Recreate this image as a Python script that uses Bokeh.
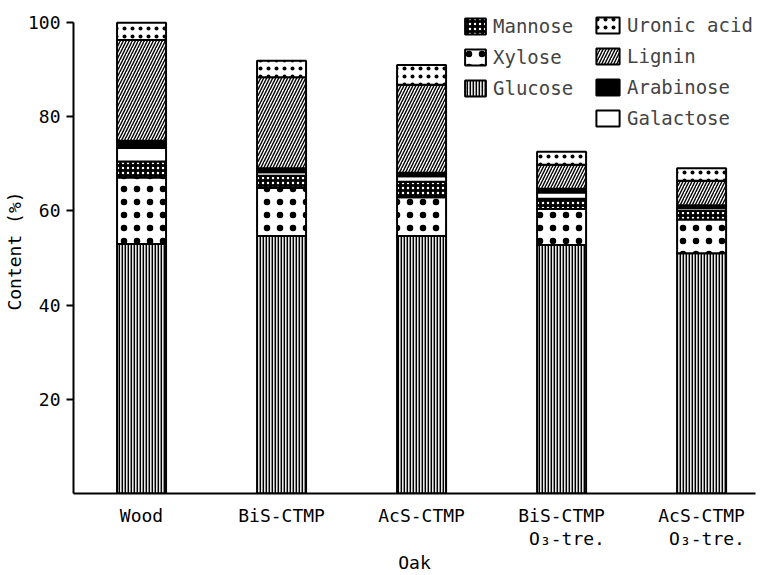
import numpy as np
from bokeh.plotting import figure
from bokeh.models import Legend, LegendItem, FixedTicker, Range1d
from bokeh.embed import file_html
from bokeh.resources import INLINE

# ---- data ----
categories = ["Wood", "BiS-CTMP", "AcS-CTMP", "BiS-CTMP\n\u00a0O\u2083-tre.", "AcS-CTMP\n\u00a0O\u2083-tre."]
glucose   = [53.0, 54.7, 54.7, 52.8, 51.0]
xylose    = [14.1, 10.2,  8.2,  7.6,  7.2]
mannose   = [ 3.4,  2.6,  3.3,  2.2,  1.8]
galactose = [ 2.9,  0.7,  1.2,  1.3,  0.6]
arabinose = [ 1.5,  0.9,  0.7,  0.8,  0.6]
lignin    = [21.4, 19.3, 18.7,  5.1,  5.2]
uronic    = [ 3.7,  3.5,  4.2,  2.8,  2.7]
y_ticks = [20, 40, 60, 80, 100]

FONT = "DejaVu Sans Mono"

p = figure(width=760, height=575, output_backend="svg", toolbar_location=None,
           x_range=Range1d(-0.486, 4.385), y_range=Range1d(0, 103),
           min_border_left=73, min_border_right=5, min_border_top=8, min_border_bottom=78)
p.outline_line_color = None
p.xgrid.visible = False
p.ygrid.visible = False

xs = np.arange(len(categories))
series = [
    ("Glucose", glucose, dict(fill_color="#e8e8e8", hatch_pattern="vertical_line", hatch_scale=3, hatch_weight=1.8, hatch_color="black")),
    ("Xylose", xylose, dict(fill_color="white", hatch_pattern="dot", hatch_scale=13, hatch_weight=0.4, hatch_color="black")),
    ("Mannose", mannose, dict(fill_color="black", hatch_pattern="dot", hatch_scale=5, hatch_weight=1.2, hatch_color="white")),
    ("Galactose", galactose, dict(fill_color="white")),
    ("Arabinose", arabinose, dict(fill_color="black")),
    ("Lignin", lignin, dict(fill_color="white", hatch_pattern="right_diagonal_line", hatch_scale=6, hatch_weight=1.4, hatch_color="black")),
    ("Uronic acid", uronic, dict(fill_color="white", hatch_pattern="dot", hatch_scale=8, hatch_weight=0.6, hatch_color="black")),
]
rend = {}
bottom = np.zeros(len(categories))
for name, vals, style in series:
    top = bottom + np.array(vals)
    r = p.vbar(x=xs, bottom=bottom, top=top, width=0.35, line_color="black", line_width=2, **style)
    rend[name] = r
    bottom = top

# axes
p.xaxis.ticker = FixedTicker(ticks=list(xs))
p.xaxis.major_label_overrides = {int(i): c for i, c in zip(xs, categories)}
p.xaxis.major_tick_line_color = None
p.xaxis.minor_tick_line_color = None
p.xaxis.major_label_standoff = 5
p.xaxis.major_label_text_line_height = 1.1
p.xaxis.axis_label = "Oak"
p.xaxis.axis_label_standoff = 0
p.xaxis.axis_label_text_font_style = "normal"

p.yaxis.ticker = FixedTicker(ticks=y_ticks)
p.yaxis.bounds = (0, 100)
p.yaxis.minor_tick_line_color = None
p.yaxis.major_tick_out = 7
p.yaxis.major_tick_in = 0
p.yaxis.major_tick_line_width = 2
p.yaxis.major_label_standoff = 6
p.yaxis.axis_label = "Content (%)"
p.yaxis.axis_label_standoff = 0
p.yaxis.axis_label_text_font_style = "normal"

for ax in (p.xaxis, p.yaxis):
    ax.axis_line_width = 2
    ax.axis_line_color = "black"
    ax.major_label_text_font = FONT
    ax.major_label_text_font_size = "18px"
    ax.major_label_text_color = "black"
    ax.axis_label_text_font = FONT
    ax.axis_label_text_font_size = "18px"
    ax.axis_label_text_color = "black"

def make_legend(names, loc, gw):
    lg = Legend(items=[LegendItem(label=n, renderers=[rend[n]]) for n in names],
                location=loc, orientation="vertical")
    lg.margin = 0
    lg.padding = 0
    lg.spacing = 9
    lg.glyph_width = gw
    lg.glyph_height = 20
    lg.label_height = 20
    lg.label_standoff = 5
    lg.label_text_font = FONT
    lg.label_text_font_size = "19px"
    lg.border_line_color = None
    lg.background_fill_alpha = 0
    return lg

p.add_layout(make_legend(["Mannose", "Xylose", "Glucose"], (389, 394), 26))
p.add_layout(make_legend(["Uronic acid", "Lignin", "Arabinose", "Galactose"], (520, 364), 29))

open("out.html", "w").write(file_html(p, INLINE))
